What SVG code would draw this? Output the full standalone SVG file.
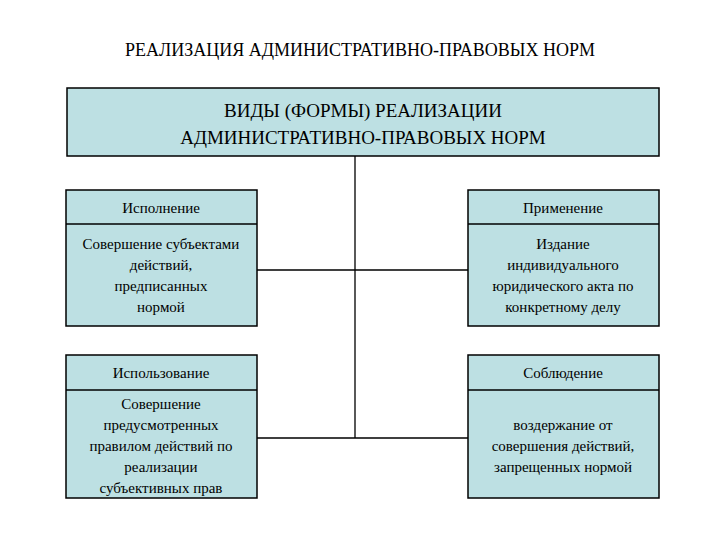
<svg xmlns="http://www.w3.org/2000/svg" width="720" height="540" viewBox="0 0 720 540">
<style>
.b{fill:#bde0e3;stroke:#000;stroke-width:1.5}
.l{stroke:#000;stroke-width:1.3;fill:none}
text{font-family:"Liberation Serif",serif;fill:#000;text-anchor:middle}
.s{font-size:15px}
.h{font-size:19px}
</style>
<rect width="720" height="540" fill="#fff"/>
<text x="360" y="56" style="font-size:18px">РЕАЛИЗАЦИЯ АДМИНИСТРАТИВНО-ПРАВОВЫХ НОРМ</text>
<g id="connectors">
<path class="l" d="M355 156V438M257 270H468M257 438H468"/>
</g>
<g id="top">
<rect class="b" x="67" y="88" width="592" height="68"/>
<text class="h" x="363" y="117">ВИДЫ (ФОРМЫ) РЕАЛИЗАЦИИ</text>
<text class="h" x="363" y="144">АДМИНИСТРАТИВНО-ПРАВОВЫХ НОРМ</text>
</g>
<g id="ispolnenie">
<rect class="b" x="66" y="190" width="191" height="136"/>
<line class="l" x1="66" y1="224" x2="257" y2="224"/>
<text class="s" x="161" y="213">Исполнение</text>
<text class="s" x="161" y="249">Совершение субъектами</text>
<text class="s" x="161" y="270">действий,</text>
<text class="s" x="161" y="291">предписанных</text>
<text class="s" x="161" y="312">нормой</text>
</g>
<g id="primenenie">
<rect class="b" x="468" y="190" width="191" height="136"/>
<line class="l" x1="468" y1="224" x2="659" y2="224"/>
<text class="s" x="563" y="213">Применение</text>
<text class="s" x="563" y="249">Издание</text>
<text class="s" x="563" y="270">индивидуального</text>
<text class="s" x="563" y="291">юридического акта по</text>
<text class="s" x="563" y="312">конкретному делу</text>
</g>
<g id="ispolzovanie">
<rect class="b" x="66" y="355" width="191" height="143"/>
<line class="l" x1="66" y1="390" x2="257" y2="390"/>
<text class="s" x="161" y="378">Использование</text>
<text class="s" x="161" y="409">Совершение</text>
<text class="s" x="161" y="430">предусмотренных</text>
<text class="s" x="161" y="451">правилом действий по</text>
<text class="s" x="161" y="472">реализации</text>
<text class="s" x="161" y="493">субъективных прав</text>
</g>
<g id="soblyudenie">
<rect class="b" x="468" y="355" width="191" height="143"/>
<line class="l" x1="468" y1="390" x2="659" y2="390"/>
<text class="s" x="563" y="378">Соблюдение</text>
<text class="s" x="563" y="430">воздержание от</text>
<text class="s" x="563" y="451">совершения действий,</text>
<text class="s" x="563" y="472">запрещенных нормой</text>
</g>
</svg>
